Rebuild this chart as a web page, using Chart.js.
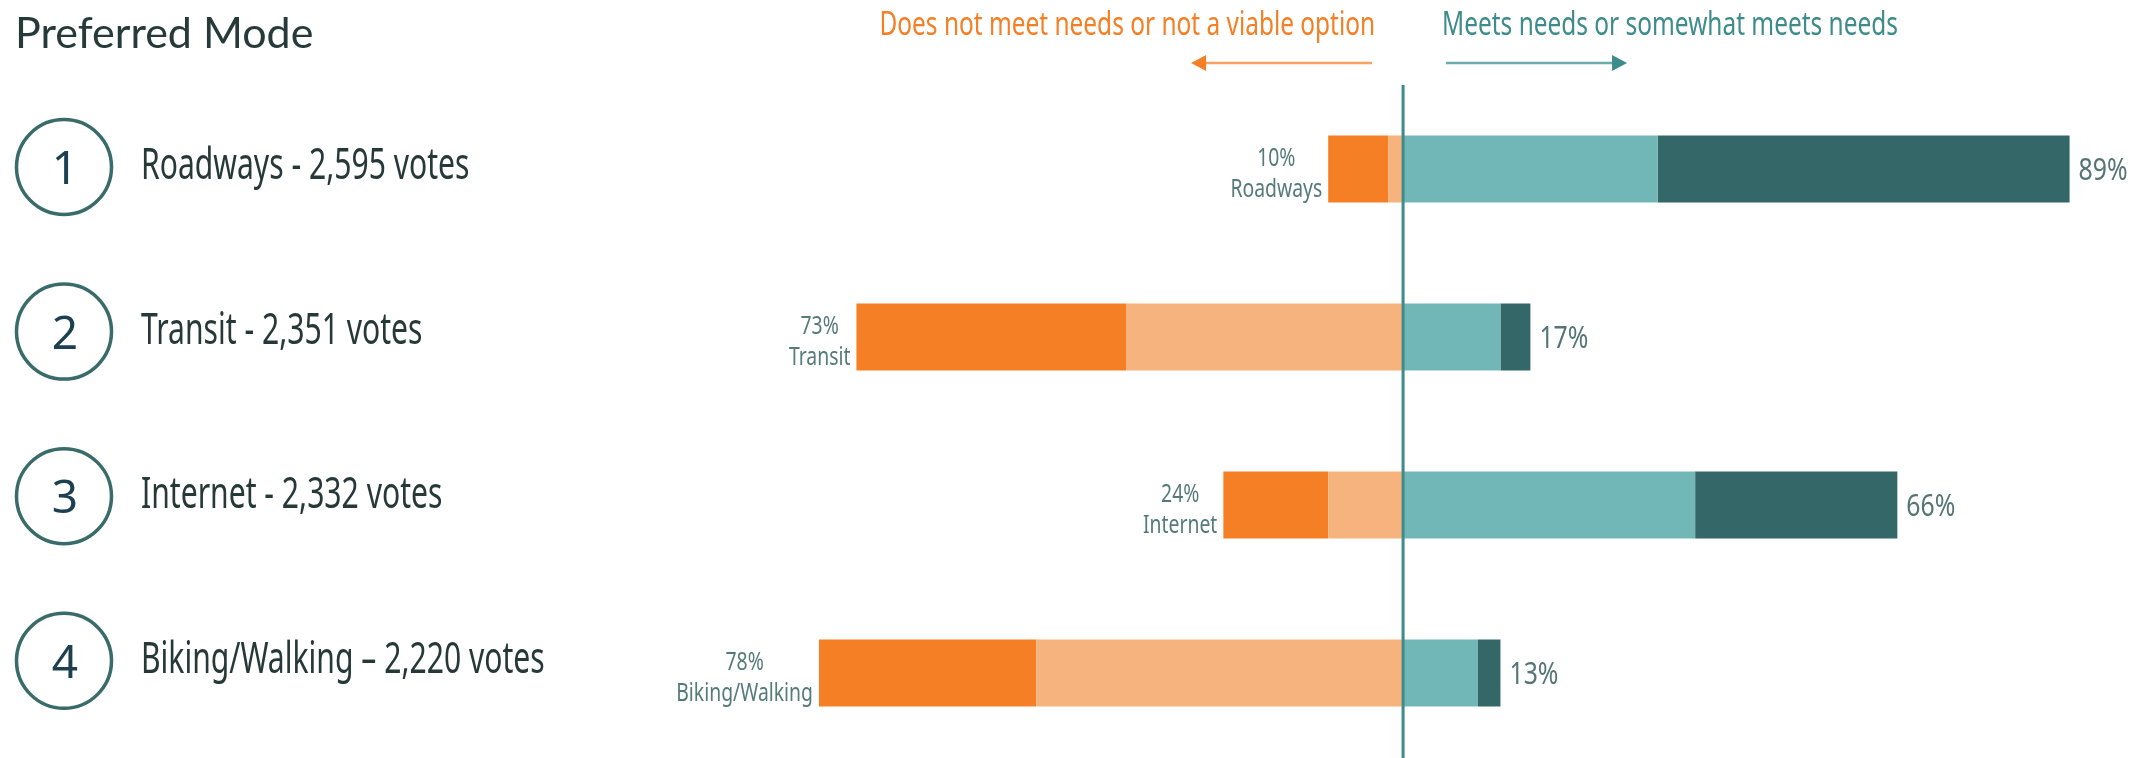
<!DOCTYPE html>
<html><head><meta charset="utf-8">
<script src="https://cdn.jsdelivr.net/npm/chart.js@4/dist/chart.umd.min.js"></script>
<style>html,body{margin:0;padding:0;background:#fff;overflow:hidden}</style>
</head><body>
<canvas id="c" width="2151" height="758"></canvas>
<script>
// ---- data ----
const categories = ['Roadways', 'Transit', 'Internet', 'Biking/Walking'];
const ranks = ['1', '2', '3', '4'];
const voteLabels = ['Roadways - 2,595 votes', 'Transit - 2,351 votes', 'Internet - 2,332 votes', 'Biking/Walking – 2,220 votes'];
const notViable = [8, 36, 14, 29];      // dark orange (outer left)
const notMeet = [2, 37, 10, 49];        // light orange (inner left)
const somewhatMeets = [34, 13, 39, 10]; // light teal (inner right)
const meets = [55, 4, 27, 3];           // dark teal (outer right)
const negTotals = [10, 73, 24, 78];
const posTotals = [89, 17, 66, 13];
const titleText = 'Preferred Mode';
const negHeader = 'Does not meet needs or not a viable option';
const posHeader = 'Meets needs or somewhat meets needs';

// ---- helpers ----
const FAM = '"Noto Sans", "Open Sans", sans-serif';
function condText(ctx, text, x, y, size, color, align, cf) {
  ctx.save();
  ctx.font = '400 ' + size + 'px ' + FAM;
  ctx.fillStyle = color;
  ctx.textBaseline = 'alphabetic';
  ctx.textAlign = align;
  ctx.translate(x, y);
  ctx.scale(cf, 1);
  ctx.fillText(text, 0, 0);
  ctx.restore();
}
function condWidth(ctx, text, size, cf) {
  ctx.save();
  ctx.font = '400 ' + size + 'px ' + FAM;
  const w = ctx.measureText(text).width * cf;
  ctx.restore();
  return w;
}

const deco = {
  id: 'deco',
  afterDatasetsDraw(chart) {
    const ctx = chart.ctx;
    const xs = chart.scales.x, ys = chart.scales.y;
    const zero = xs.getPixelForValue(0);
    const area = chart.chartArea;

    // centre line
    ctx.save();
    ctx.strokeStyle = '#3e8b8b';
    ctx.lineWidth = 3;
    ctx.beginPath();
    ctx.moveTo(zero, area.top);
    ctx.lineTo(zero, chart.height);
    ctx.stroke();
    ctx.restore();

    // title
    ctx.save();
    ctx.font = '400 43px Lato, sans-serif';
    ctx.fillStyle = '#263a3a';
    ctx.textBaseline = 'alphabetic';
    ctx.fillText(titleText, 15, 48);
    ctx.restore();

    // headers
    condText(ctx, negHeader, zero - 28, 35, 33, '#f47f24', 'right', 0.74);
    condText(ctx, posHeader, zero + 39, 35, 33, '#3e8b8b', 'left', 0.74);

    // arrows
    const ay = 63;
    ctx.save();
    ctx.lineWidth = 2.5;
    ctx.strokeStyle = '#f7a263';
    ctx.beginPath(); ctx.moveTo(zero - 31, ay); ctx.lineTo(zero - 198, ay); ctx.stroke();
    ctx.fillStyle = '#f47f24';
    ctx.beginPath(); ctx.moveTo(zero - 212, ay); ctx.lineTo(zero - 197, ay - 8); ctx.lineTo(zero - 197, ay + 8); ctx.closePath(); ctx.fill();
    ctx.strokeStyle = '#6aabab';
    ctx.beginPath(); ctx.moveTo(zero + 43, ay); ctx.lineTo(zero + 210, ay); ctx.stroke();
    ctx.fillStyle = '#3e8b8b';
    ctx.beginPath(); ctx.moveTo(zero + 224, ay); ctx.lineTo(zero + 209, ay - 8); ctx.lineTo(zero + 209, ay + 8); ctx.closePath(); ctx.fill();
    ctx.restore();

    categories.forEach((cat, i) => {
      const yc = ys.getPixelForValue(i);
      // rank circle
      const cy = yc - 2 - 3.4 * i;
      ctx.save();
      ctx.strokeStyle = '#3a6b6b';
      ctx.lineWidth = 3.5;
      ctx.beginPath(); ctx.arc(64, cy, 47.5, 0, Math.PI * 2); ctx.stroke();
      ctx.font = '400 46px ' + FAM;
      ctx.fillStyle = '#1d4050';
      ctx.textAlign = 'center';
      ctx.textBaseline = 'alphabetic';
      ctx.fillText(ranks[i], 65, cy + 17);
      ctx.restore();
      condText(ctx, voteLabels[i], 141, cy + 12, 43, '#263838', 'left', 0.70);

      // value labels
      const left = xs.getPixelForValue(-negTotals[i]);
      const right = xs.getPixelForValue(posTotals[i]);
      condText(ctx, posTotals[i] + '%', right + 9, yc + 11, 31, '#557575', 'left', 0.8);
      const l1 = negTotals[i] + '%';
      const w = Math.max(condWidth(ctx, l1, 26, 0.745), condWidth(ctx, cat, 26, 0.745));
      const cx = left - 6 - w / 2;
      condText(ctx, l1, cx, yc - 3, 26, '#557a7a', 'center', 0.745);
      condText(ctx, cat, cx, yc + 28, 26, '#557a7a', 'center', 0.745);
    });
  }
};

new Chart(document.getElementById('c'), {
  type: 'bar',
  data: {
    labels: categories,
    datasets: [
      { label: 'Does not meet needs', data: notMeet.map(v => -v), backgroundColor: '#f7b37d' },
      { label: 'Not a viable option', data: notViable.map(v => -v), backgroundColor: '#f47f24' },
      { label: 'Somewhat meets needs', data: somewhatMeets, backgroundColor: '#72b7b7' },
      { label: 'Meets needs', data: meets, backgroundColor: '#346868' }
    ]
  },
  options: {
    indexAxis: 'y',
    responsive: false,
    devicePixelRatio: 1,
    animation: false,
    layout: { padding: { left: 804, right: 29, top: 85, bottom: 1 } },
    datasets: { bar: { categoryPercentage: 1, barPercentage: 0.4, borderWidth: 0 } },
    scales: {
      x: { stacked: true, min: -80, max: 96, display: false },
      y: { stacked: true, display: false }
    },
    plugins: { legend: { display: false }, tooltip: { enabled: false }, title: { display: false } }
  },
  plugins: [deco]
});
</script>
</body></html>
